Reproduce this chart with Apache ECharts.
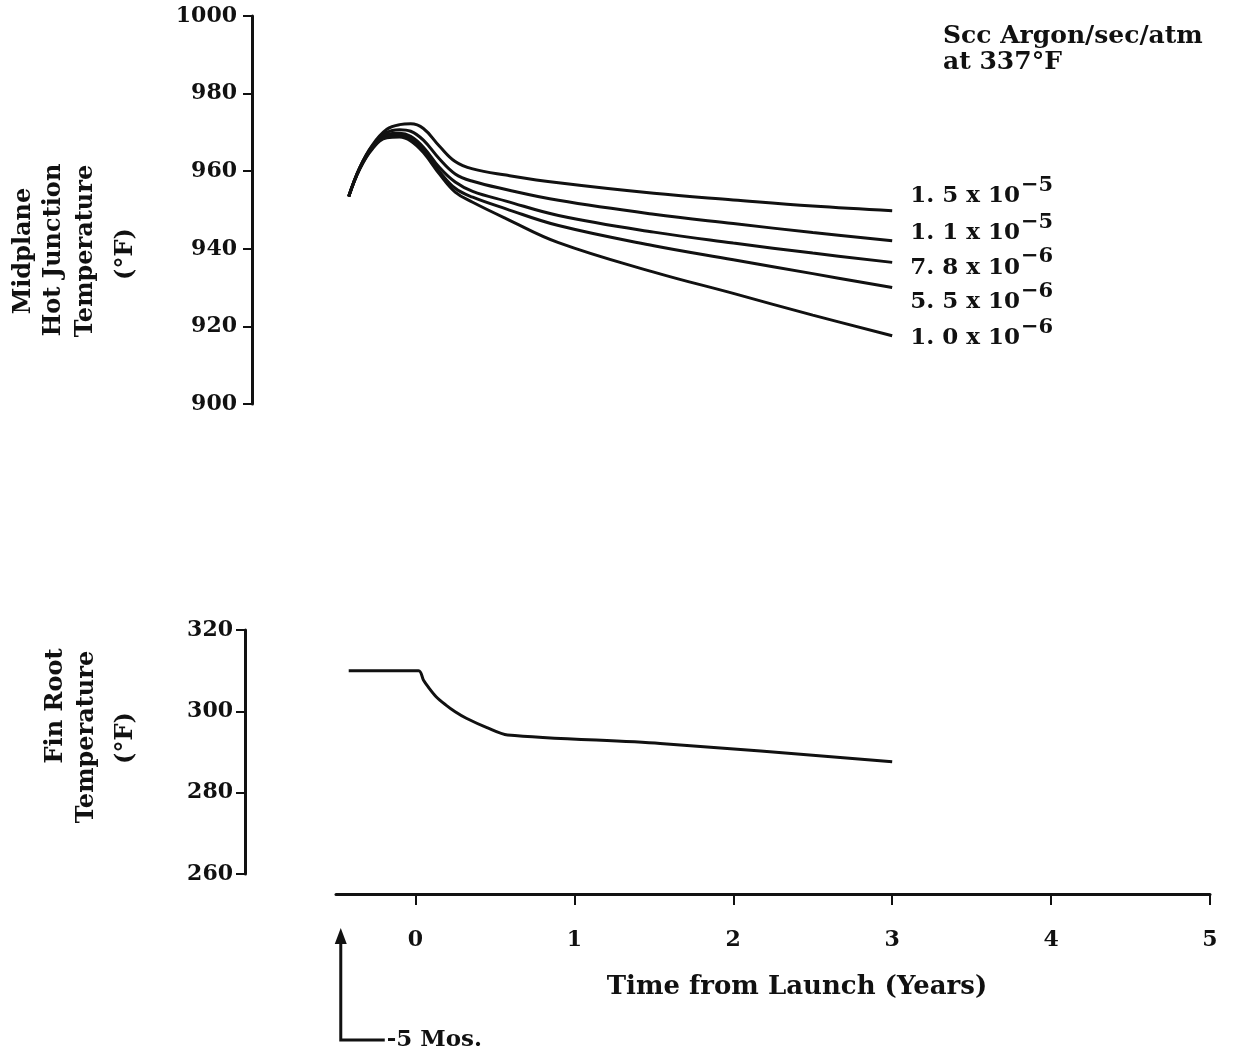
<!DOCTYPE html>
<html>
<head>
<meta charset="utf-8">
<script src="https://cdn.jsdelivr.net/npm/echarts@6/dist/echarts.min.js"></script>
<style>
html,body{margin:0;padding:0;background:#fff;}
#c{width:1246px;height:1053px;}
</style>
</head>
<body>
<div id="c"></div>
<script>
// ---- data ----
const topX = [-0.42, -0.35, -0.27, -0.18, -0.1, -0.03, 0.05, 0.15, 0.25, 0.36, 0.57, 0.9, 1.5, 2.0, 2.5, 3.0];
const flow15e6 = [953.5, 961.0, 966.8, 970.8, 972.0, 972.2, 971.0, 966.5, 962.5, 960.6, 959.0, 957.0, 954.3, 952.6, 951.0, 949.8];
const flow11e6 = [953.5, 961.0, 966.6, 970.0, 970.7, 970.3, 968.0, 963.2, 959.3, 957.4, 955.3, 952.5, 948.9, 946.5, 944.2, 942.1];
const flow78e7 = [953.5, 960.8, 966.3, 969.5, 969.8, 969.0, 966.2, 961.0, 957.2, 954.8, 952.3, 948.6, 944.3, 941.5, 938.9, 936.5];
const flow55e7 = [953.5, 960.7, 966.0, 969.0, 969.3, 968.4, 965.4, 960.0, 955.6, 953.3, 950.3, 946.0, 940.8, 937.2, 933.6, 930.0];
const flow10e7 = [953.5, 960.6, 965.8, 968.6, 968.8, 967.8, 964.8, 959.3, 954.6, 952.0, 947.8, 941.6, 934.0, 928.5, 922.9, 917.6];
const seriesNames = ['1.5 x 10^-5', '1.1 x 10^-5', '7.8 x 10^-6', '5.5 x 10^-6', '1.0 x 10^-6'];
const labelMantissa = ['1. 5 x 10', '1. 1 x 10', '7. 8 x 10', '5. 5 x 10', '1. 0 x 10'];
const labelExponent = ['\u22125', '\u22125', '\u22126', '\u22126', '\u22126'];

const finX = [-0.42, 0.02, 0.05, 0.08, 0.13, 0.19, 0.25, 0.32, 0.45, 0.58, 1.54, 3.0];
const finY = [310.0, 310.0, 307.7, 306.0, 303.6, 301.6, 299.9, 298.3, 296.0, 294.2, 292.1, 287.6];

const xTicks = [0, 1, 2, 3, 4, 5];
const topYTicks = [900, 920, 940, 960, 980, 1000];
const botYTicks = [260, 280, 300, 320];
const arrowX = -0.47; // "-5 Mos." pointer position on time axis

// ---- styling ----
const FONT = 'DejaVu Serif';
const INK = '#111';
const zip = (xs, ys) => xs.map((x, i) => [x, ys[i]]);
const topSeriesData = [flow15e6, flow11e6, flow78e7, flow55e7, flow10e7];
const labelOffsets = [[10, -18], [10, -11], [10, 2], [10, 11], [10, -1]];

const chart = echarts.init(document.getElementById('c'), null, {renderer: 'canvas'});

const yAxisCommon = {
  type: 'value',
  axisLine: {show: true, onZero: false, lineStyle: {color: INK, width: 3}},
  axisTick: {show: true, length: 9, lineStyle: {color: INK, width: 2}},
  axisLabel: {color: INK, fontFamily: FONT, fontWeight: 'bold', fontSize: 22, margin: 15, formatter: v => String(v)},
  splitLine: {show: false}
};

const nameFont = 'bold 24px "DejaVu Serif"';

const option = {
  animation: false,
  backgroundColor: '#fff',
  grid: [
    {left: 336, right: 36, top: 16, height: 388},
    {left: 336, right: 36, top: 630, height: 244}
  ],
  xAxis: [
    {gridIndex: 0, type: 'value', min: -0.5, max: 5, show: false, axisLine: {onZero: false}},
    {
      gridIndex: 1, type: 'value', min: -0.5, max: 5, offset: 20,
      axisLine: {show: true, onZero: false, lineStyle: {color: INK, width: 3}},
      axisTick: {show: true, customValues: xTicks, length: 11, lineStyle: {color: INK, width: 2}},
      axisLabel: {show: true, customValues: xTicks, color: INK, fontFamily: FONT, fontWeight: 'bold', fontSize: 22, margin: 35},
      splitLine: {show: false},
      name: 'Time from Launch (Years)',
      nameLocation: 'middle',
      nameGap: 80,
      nameTextStyle: {color: INK, fontFamily: FONT, fontWeight: 'bold', fontSize: 26, padding: [0, 0, 0, 48]}
    }
  ],
  yAxis: [
    Object.assign({}, yAxisCommon, {gridIndex: 0, min: topYTicks[0], max: topYTicks[topYTicks.length - 1], interval: 20, offset: 84}),
    Object.assign({}, yAxisCommon, {gridIndex: 1, min: botYTicks[0], max: botYTicks[botYTicks.length - 1], interval: 20, offset: 91,
      axisLabel: Object.assign({}, yAxisCommon.axisLabel, {margin: 12})})
  ],
  series: topSeriesData.map((vals, i) => ({
    name: seriesNames[i],
    type: 'line',
    xAxisIndex: 0,
    yAxisIndex: 0,
    data: zip(topX, vals),
    smooth: 0.4,
    showSymbol: false,
    symbol: 'none',
    lineStyle: {color: INK, width: 3},
    endLabel: {
      show: true,
      offset: labelOffsets[i],
      formatter: () => '{m|' + labelMantissa[i] + '}{s|' + labelExponent[i] + '}',
      rich: {
        m: {fontFamily: FONT, fontWeight: 'bold', fontSize: 23, color: INK, verticalAlign: 'bottom', lineHeight: 30},
        s: {fontFamily: FONT, fontWeight: 'bold', fontSize: 21, color: INK, verticalAlign: 'bottom', padding: [0, 0, 12, 1], lineHeight: 30}
      }
    }
  })).concat([{
    name: 'Fin Root',
    type: 'line',
    xAxisIndex: 1,
    yAxisIndex: 1,
    data: zip(finX, finY),
    smooth: 0.3,
    showSymbol: false,
    symbol: 'none',
    lineStyle: {color: INK, width: 3}
  }]),
  graphic: [
    {type: 'text', x: 24, y: 251, rotation: Math.PI / 2, style: {text: 'Midplane', font: nameFont, fill: INK, align: 'center', verticalAlign: 'middle'}},
    {type: 'text', x: 54, y: 250, rotation: Math.PI / 2, style: {text: 'Hot Junction', font: nameFont, fill: INK, align: 'center', verticalAlign: 'middle'}},
    {type: 'text', x: 86, y: 251, rotation: Math.PI / 2, style: {text: 'Temperature', font: nameFont, fill: INK, align: 'center', verticalAlign: 'middle'}},
    {type: 'text', x: 126, y: 254, rotation: Math.PI / 2, style: {text: '(°F)', font: nameFont, fill: INK, align: 'center', verticalAlign: 'middle'}},
    {type: 'text', x: 56, y: 706, rotation: Math.PI / 2, style: {text: 'Fin Root', font: nameFont, fill: INK, align: 'center', verticalAlign: 'middle'}},
    {type: 'text', x: 87, y: 737, rotation: Math.PI / 2, style: {text: 'Temperature', font: nameFont, fill: INK, align: 'center', verticalAlign: 'middle'}},
    {type: 'text', x: 126, y: 738, rotation: Math.PI / 2, style: {text: '(°F)', font: nameFont, fill: INK, align: 'center', verticalAlign: 'middle'}},
    {type: 'text', x: 943, y: 36, style: {text: 'Scc Argon/sec/atm', font: 'bold 25px "DejaVu Serif"', fill: INK, align: 'left', verticalAlign: 'middle'}},
    {type: 'text', x: 943, y: 62, style: {text: 'at 337°F', font: 'bold 25px "DejaVu Serif"', fill: INK, align: 'left', verticalAlign: 'middle'}}
  ]
};

chart.setOption(option);

// "-5 Mos." pointer anchored on the time axis
const ax = chart.convertToPixel({xAxisIndex: 1}, arrowX);
const axisY = 630 + 244 + 20;
chart.setOption({
  graphic: option.graphic.concat([
    {type: 'polyline', shape: {points: [[ax, axisY + 44], [ax, 1040], [ax + 44, 1040]]}, style: {stroke: INK, lineWidth: 3, fill: null}},
    {type: 'polygon', shape: {points: [[ax - 6, axisY + 50], [ax, axisY + 34], [ax + 6, axisY + 50]]}, style: {fill: INK}},
    {type: 'text', x: ax + 46, y: 1040, style: {text: '-5 Mos.', font: 'bold 23px "DejaVu Serif"', fill: INK, align: 'left', verticalAlign: 'middle'}}
  ])
});
</script>
</body>
</html>
